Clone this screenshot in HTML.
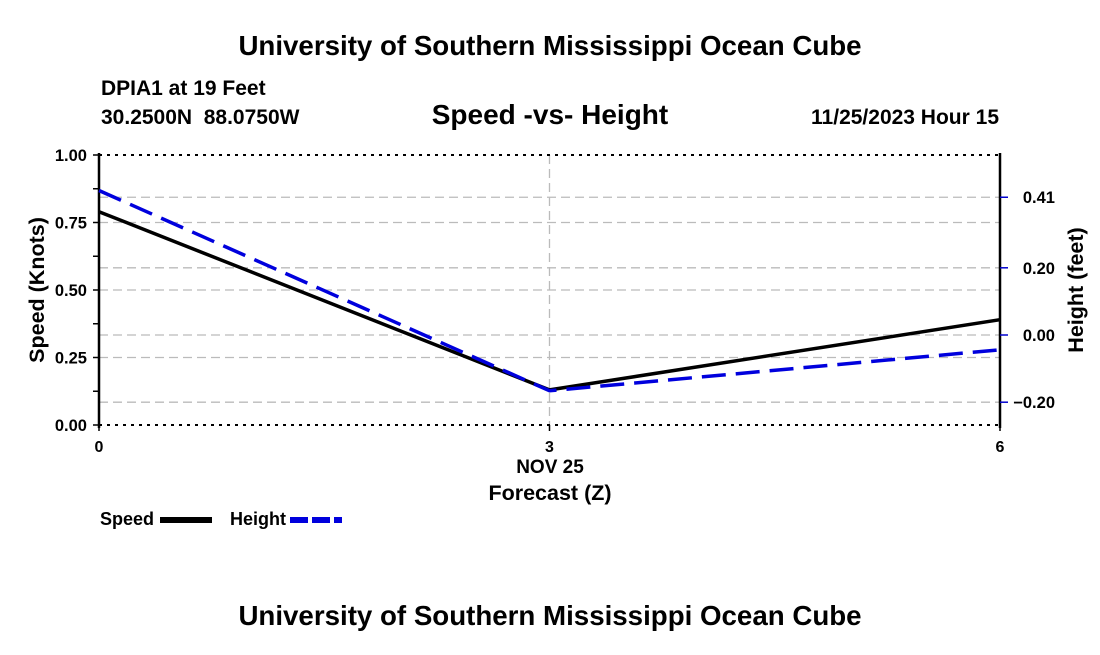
<!DOCTYPE html>
<html><head><meta charset="utf-8"><style>
body{margin:0;background:#fff;font-family:"Liberation Sans",sans-serif}
svg text{font-family:"Liberation Sans",sans-serif;font-weight:bold}
</style></head><body>
<svg width="1100" height="650" xmlns="http://www.w3.org/2000/svg">
<text x="550" y="55" text-anchor="middle" font-size="27.7">University of Southern Mississippi Ocean Cube</text>
<text x="101" y="95" font-size="21">DPIA1 at 19 Feet</text>
<text x="101" y="124" font-size="21">30.2500N&#160;&#160;88.0750W</text>
<text x="550" y="124" text-anchor="middle" font-size="28">Speed -vs- Height</text>
<text x="999" y="124" text-anchor="end" font-size="21">11/25/2023 Hour 15</text>
<g id="grid"></g>
<g id="axes"></g>
<g id="series"></g>
<text x="550" y="473" text-anchor="middle" font-size="19">NOV 25</text>
<text x="550" y="500" text-anchor="middle" font-size="21.5">Forecast (Z)</text>
<text transform="translate(44,290) rotate(-90)" text-anchor="middle" font-size="21.5">Speed (Knots)</text>
<text transform="translate(1083,290) rotate(-90)" text-anchor="middle" font-size="21.5">Height (feet)</text>
<g>
<text x="100" y="525" font-size="18">Speed</text>
<line x1="160" y1="520" x2="212" y2="520" stroke="#000" stroke-width="6"/>
<text x="230" y="525" font-size="18">Height</text>
<line x1="290" y1="520" x2="342" y2="520" stroke="#0000dd" stroke-width="6" stroke-dasharray="18,4"/>
</g>
<text x="550" y="625" text-anchor="middle" font-size="27.7">University of Southern Mississippi Ocean Cube</text>
</svg>
<script>
const hours=[0,3,6];
const speed=[0.79,0.13,0.39];
const height=[0.43,-0.166,-0.044];
const leftTicks=[0,0.25,0.5,0.75,1.0];
const rightTicks=[-0.2,0,0.2,0.41];
const xTicks=[0,3,6];
const NS="http://www.w3.org/2000/svg";
const X0=99,X1=1000,Y0=425,Y1=155;
const xs=h=>X0+(X1-X0)*h/6;
const ysL=v=>Y0-(Y0-Y1)*v;
const ysR=v=>335-v*336;
function mk(p,t,a){const e=document.createElementNS(NS,t);for(const k in a)e.setAttribute(k,a[k]);p.appendChild(e);return e;}
const grid=document.getElementById('grid'),axes=document.getElementById('axes'),ser=document.getElementById('series');
leftTicks.forEach(v=>{if(v>0&&v<1){const l=mk(grid,'line',{x1:X0,x2:X1,y1:ysL(v),y2:ysL(v),stroke:'#bbb','stroke-width':1.3,'stroke-dasharray':'9,5'});

}});
rightTicks.forEach(v=>{const l=mk(grid,'line',{x1:X0,x2:X1,y1:ysR(v),y2:ysR(v),stroke:'#bbb','stroke-width':1.3,'stroke-dasharray':'9,5'});

});
const vg=mk(grid,'line',{x1:xs(3),x2:xs(3),y1:Y1,y2:Y0,stroke:'#bbb','stroke-width':1.3,'stroke-dasharray':'9,5'});


[Y1,Y0].forEach(y=>{const l=mk(axes,'line',{x1:X0,x2:X1,y1:y,y2:y,stroke:'#000','stroke-width':2,'stroke-dasharray':'3,5'});

});
[X0,X1].forEach(x=>{const l=mk(axes,'line',{x1:x,x2:x,y1:Y1-2,y2:Y0+3,stroke:'#000','stroke-width':2.5});

});
for(let v=0;v<=1.0001;v+=0.125){mk(axes,'line',{x1:X0-6,x2:X0,y1:ysL(v),y2:ysL(v),stroke:'#000','stroke-width':1.5});}
leftTicks.forEach(v=>{const t=mk(axes,'text',{x:X0-12,y:ysL(v)+6,'text-anchor':'end','font-size':16.5});t.textContent=v.toFixed(2);

});
rightTicks.forEach(v=>{mk(axes,'line',{x1:X1,x2:X1+8,y1:ysR(v),y2:ysR(v),stroke:'#0000cc','stroke-width':1.5});
const t=mk(axes,'text',{x:1055,y:ysR(v)+6,'text-anchor':'end','font-size':16.5});t.textContent=(v<0?'\u2212':'')+Math.abs(v).toFixed(2);

});
xTicks.forEach(h=>{mk(axes,'line',{x1:xs(h),x2:xs(h),y1:Y0,y2:Y0+6,stroke:'#000','stroke-width':1.5});
const t=mk(axes,'text',{x:xs(h),y:Y0+27,'text-anchor':'middle','font-size':16});t.textContent=h;

});
const sp=mk(ser,'polyline',{points:hours.map((h,i)=>xs(h)+','+ysL(speed[i])).join(' '),fill:'none',stroke:'#000','stroke-width':3.5});


const hl=mk(ser,'polyline',{points:hours.map((h,i)=>xs(h)+','+ysR(height[i])).join(' '),fill:'none',stroke:'#0000dd','stroke-width':3.5,'stroke-dasharray':'24,10'});


</script>
</body></html>
